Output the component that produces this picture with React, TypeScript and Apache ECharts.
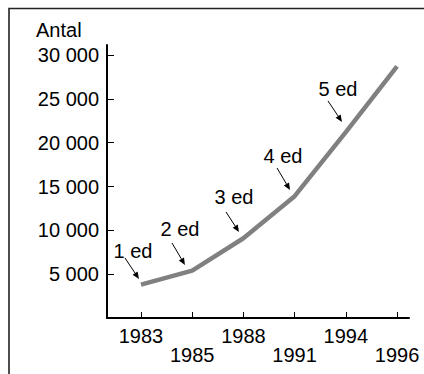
import React, { useEffect, useRef } from "react";
import * as echarts from "echarts";

const years = ["1983", "1985", "1988", "1991", "1994", "1996"];
const counts = [3800, 5400, 9100, 13900, 21200, 28700];
const yTicks = [5000, 10000, 15000, 20000, 25000, 30000];
const edLabels = ["1 ed", "2 ed", "3 ed", "4 ed", "5 ed"];
// label anchor (x index, value)
const edLabelX = [-0.156, 0.762, 1.816, 2.773, 3.848];
const edLabelY = [7650, 10160, 13810, 18490, 26140];
// arrow start and end (x index, value)
const arrowFromX = [-0.313, 0.605, 1.66, 2.656, 3.652];
const arrowFromY = [6850, 8560, 12100, 17120, 24770];
const arrowToX = [-0.039, 0.859, 1.914, 2.91, 3.926];
const arrowToY = [4450, 6050, 9820, 14610, 22370];

const FONT = "'Liberation Sans', Arial, sans-serif";
const FS = 20;

function fmt(v: number): string {
  return String(v).replace(/\B(?=(\d{3})+(?!\d))/g, " ");
}

export default function App() {
  const ref = useRef<HTMLDivElement>(null);
  useEffect(() => {
    if (!ref.current) return;
    const chart = echarts.init(ref.current, null, { renderer: "svg" });
    const idx = years.map((_, i) => i);
    chart.setOption({
      animation: false,
      backgroundColor: "#fff",
      textStyle: { fontFamily: FONT },
      grid: { left: 107, right: 15, top: 45, bottom: 56 },
      xAxis: {
        type: "value",
        min: -0.664,
        max: 5.234,
        axisLine: { show: true, onZero: false, lineStyle: { color: "#000", width: 2 } },
        axisTick: { show: true, inside: true, length: 6, customValues: idx, lineStyle: { color: "#000", width: 1 } },
        splitLine: { show: false },
        axisLabel: {
          customValues: idx,
          margin: 8,
          fontSize: FS,
          lineHeight: 19,
          color: "#000",
          fontFamily: FONT,
          formatter: (v: number) => {
            const i = Math.round(v);
            return i % 2 ? "\n" + years[i] : years[i];
          },
        },
      },
      yAxis: {
        type: "value",
        min: 0,
        max: 31150,
        axisLine: { show: true, onZero: false, lineStyle: { color: "#000", width: 2 } },
        axisTick: { show: true, inside: true, length: 7, customValues: yTicks, lineStyle: { color: "#000", width: 1 } },
        splitLine: { show: false },
        axisLabel: {
          customValues: yTicks,
          margin: 8,
          fontSize: FS,
          color: "#000",
          fontFamily: FONT,
          formatter: (v: number) => fmt(v),
        },
      },
      graphic: [
        {
          type: "polyline",
          shape: { points: [[9, 374], [9, 8.5], [424, 8.5]] },
          style: { stroke: "#222", lineWidth: 1.6, fill: null },
        },
        {
          type: "text",
          x: 36,
          y: 30,
          style: { text: "Antal", fontSize: FS, fontFamily: FONT, fill: "#000", verticalAlign: "middle", align: "left" },
        },
      ],
      series: [
        {
          type: "line",
          data: counts.map((c, i) => [i, c]),
          symbol: "none",
          lineStyle: { color: "#808080", width: 4.5 },
          silent: true,
        },
        {
          type: "custom",
          silent: true,
          data: edLabels.map((_, i) => [edLabelX[i], edLabelY[i], i]),
          encode: { x: 0, y: 1 },
          renderItem: (params: any, api: any) => {
            const p = api.coord([api.value(0), api.value(1)]);
            return {
              type: "text",
              x: p[0],
              y: p[1],
              style: {
                text: edLabels[api.value(2)],
                fontSize: FS,
                fontFamily: FONT,
                fill: "#000",
                align: "center",
                verticalAlign: "middle",
              },
            };
          },
        },
        {
          type: "custom",
          silent: true,
          data: edLabels.map((_, i) => [arrowFromX[i], arrowFromY[i], arrowToX[i], arrowToY[i]]),
          encode: { x: [0, 2], y: [1, 3] },
          renderItem: (params: any, api: any) => {
            const p1 = api.coord([api.value(0), api.value(1)]);
            const p2 = api.coord([api.value(2), api.value(3)]);
            const dx = p2[0] - p1[0];
            const dy = p2[1] - p1[1];
            const len = Math.sqrt(dx * dx + dy * dy);
            const ux = dx / len;
            const uy = dy / len;
            const hl = 7;
            const hw = 3;
            const bx = p2[0] - ux * hl;
            const by = p2[1] - uy * hl;
            return {
              type: "group",
              children: [
                {
                  type: "line",
                  shape: { x1: p1[0], y1: p1[1], x2: bx, y2: by },
                  style: { stroke: "#000", lineWidth: 1 },
                },
                {
                  type: "polygon",
                  shape: {
                    points: [
                      [p2[0], p2[1]],
                      [bx - uy * hw, by + ux * hw],
                      [bx + uy * hw, by - ux * hw],
                    ],
                  },
                  style: { fill: "#000" },
                },
              ],
            };
          },
        },
      ],
    });
    return () => chart.dispose();
  }, []);
  return <div ref={ref} style={{ position: "fixed", left: 0, top: 0, width: 424, height: 374 }} />;
}
